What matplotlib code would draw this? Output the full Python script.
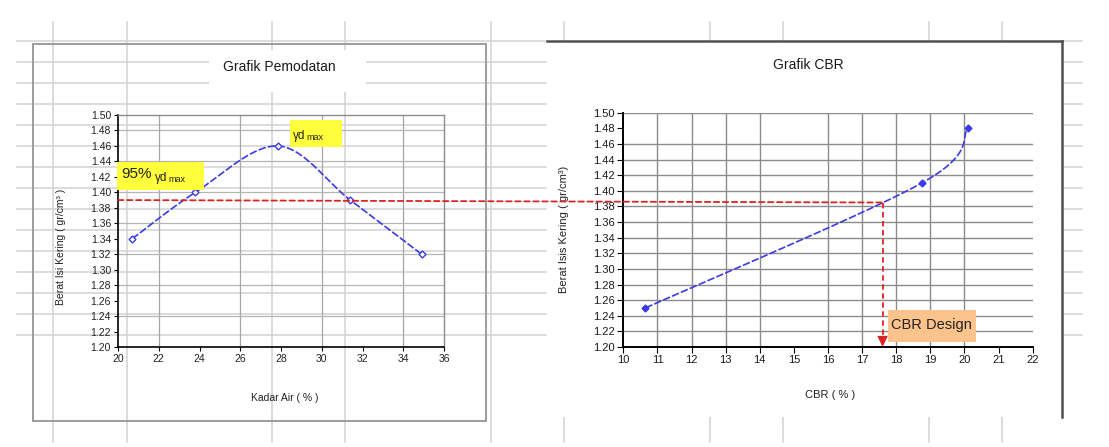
import numpy as np
import matplotlib
matplotlib.use("Agg")
import matplotlib.pyplot as plt
from matplotlib.patches import Rectangle, ConnectionPatch

plt.rcParams['font.family'] = ['Liberation Sans', 'DejaVu Sans']

# ---------------- data ----------------
# Grafik Pemadatan (compaction)
kadar_air = [20.7, 23.8, 27.85, 31.4, 34.9]          # %
berat_isi = [1.34, 1.40, 1.46, 1.39, 1.32]           # gr/cm3
gamma_95 = 1.39                                      # 95% gamma d max

# Grafik CBR
cbr = [10.65, 18.75, 20.1]                           # %
berat_isi_cbr = [1.25, 1.41, 1.48]                   # gr/cm3
cbr_design = 17.6
gamma_at_design = 1.385

left_xticks = list(range(20, 37, 2))
left_yticks = [round(1.20 + 0.02 * i, 2) for i in range(16)]
right_xticks = list(range(10, 23))
right_yticks = [round(1.20 + 0.02 * i, 2) for i in range(16)]

W, H = 1109, 447
fig = plt.figure(figsize=(W / 100, H / 100), dpi=100)

def frac(x0, y0, x1, y1):
    return [x0 / W, 1 - y1 / H, (x1 - x0) / W, (y1 - y0) / H]

# ---------------- spreadsheet background ----------------
bg = fig.add_axes([0, 0, 1, 1], zorder=0)
bg.set_xlim(0, W); bg.set_ylim(H, 0); bg.axis('off')
ss = '#d2d2d2'
col_x = [53, 127, 272, 345, 491, 564, 710, 783, 929, 1002]
row_y = [41 + 21 * i for i in range(15)]
for x in col_x:
    bg.plot([x, x], [22, 442], color=ss, lw=1.1, zorder=1)
for y in row_y:
    bg.plot([17, 546], [y, y], color=ss, lw=1.1, zorder=1)
    bg.plot([1063, 1082], [y, y], color=ss, lw=1.1, zorder=1)
# right chart (opaque white)
bg.add_patch(Rectangle((547, 41), 1062 - 547, 417 - 41, facecolor='white', edgecolor='none', zorder=2))
bg.plot([547, 1062], [41, 41], color='#505050', lw=1.8, zorder=3)
bg.plot([1062, 1062], [41, 417], color='#505050', lw=1.8, zorder=3)
# left chart frame
bg.add_patch(Rectangle((33, 44), 486 - 33, 421 - 44, facecolor='none', edgecolor='#9c9c9c', lw=1.4, zorder=3))
# white behind left title
bg.add_patch(Rectangle((209, 50), 366 - 209, 42, facecolor='white', edgecolor='none', zorder=3))
bg.text(279, 67, 'Grafik Pemodatan', ha='center', va='center', fontsize=10, color='#1a1a1a', zorder=4)
bg.text(808, 65, 'Grafik CBR', ha='center', va='center', fontsize=10, color='#1a1a1a', zorder=4)

# ---------------- smoothing helper (Excel-like bezier) ----------------
def smooth(ax, xs, ys, n=60):
    P = ax.transData.transform(np.column_stack([xs, ys]))
    out = []
    m = len(P)
    for i in range(m - 1):
        p0 = P[i - 1] if i > 0 else P[i]
        p1, p2 = P[i], P[i + 1]
        p3 = P[i + 2] if i + 2 < m else P[i + 1]
        b1 = p1 + (p2 - p0) / 6.0
        b2 = p2 - (p3 - p1) / 6.0
        t = np.linspace(0, 1, n)[:, None]
        seg = (1 - t) ** 3 * p1 + 3 * (1 - t) ** 2 * t * b1 + 3 * (1 - t) * t ** 2 * b2 + t ** 3 * p2
        out.append(seg if i == 0 else seg[1:])
    D = np.vstack(out)
    return ax.transData.inverted().transform(D)

blue = '#3a3ae6'
red = '#dd2222'

# ---------------- left chart ----------------
ax1 = fig.add_axes(frac(118, 115, 444, 347), zorder=2)
ax1.set_facecolor('none')
ax1.set_xlim(20, 36); ax1.set_ylim(1.20, 1.50)
ax1.set_xticks(left_xticks)
ax1.set_yticks(left_yticks)
ax1.set_yticklabels([f'{v:.2f}' for v in left_yticks])
ax1.tick_params(labelsize=7.5, length=3, direction='out', colors='black', labelcolor='#222222', pad=2)
for s in ['left', 'bottom']:
    ax1.spines[s].set_color('black'); ax1.spines[s].set_linewidth(1.2)
for s in ['top', 'right']:
    ax1.spines[s].set_color('#8c8c8c'); ax1.spines[s].set_linewidth(1.0)
for gx in [22, 26, 30, 34]:
    ax1.axvline(gx, color='#a6a6a6', lw=0.9, zorder=0)
for gy in [1.48, 1.44, 1.40, 1.36, 1.32, 1.28, 1.24]:
    ax1.axhline(gy, color='#b4b4b4', lw=0.9, zorder=0)
ax1.set_xlabel('Kadar Air ( % )', fontsize=7.5, color='#222222')
ax1.xaxis.set_label_coords(0.51, -0.2)
ax1.set_ylabel('Berat Isi Kering ( gr/cm³ )', fontsize=7.5, color='#222222')
ax1.yaxis.set_label_coords(-0.16, 0.43)

fig.canvas.draw()
c1 = smooth(ax1, kadar_air, berat_isi)
ax1.plot(c1[:, 0], c1[:, 1], color=blue, lw=1.2, ls=(0, (4.5, 1.3)), zorder=3)
ax1.plot(kadar_air, berat_isi, ls='none', marker='D', ms=3.5, mfc='white', mec=blue, mew=1.0, zorder=4)

# ---------------- right chart ----------------
ax2 = fig.add_axes(frac(623.3, 112.7, 1032.7, 347), zorder=2)
ax2.set_facecolor('none')
ax2.set_xlim(10, 22); ax2.set_ylim(1.20, 1.50)
ax2.set_xticks(right_xticks)
ax2.set_yticks(right_yticks)
ax2.set_yticklabels([f'{v:.2f}' for v in right_yticks])
ax2.tick_params(labelsize=8, length=4, direction='out', colors='black', labelcolor='#1a1a1a', pad=2)
ax2.spines['top'].set_visible(False)
ax2.spines['right'].set_visible(False)
for s in ['left', 'bottom']:
    ax2.spines[s].set_color('black'); ax2.spines[s].set_linewidth(1.4)
for gx in [11, 12, 13, 14, 16, 17, 18, 19, 20]:
    ax2.axvline(gx, color='#8c8c8c', lw=1.0, zorder=0)
for gy in [1.50, 1.46, 1.44, 1.42, 1.40, 1.38, 1.36, 1.34, 1.32, 1.30, 1.28, 1.26, 1.24, 1.22]:
    ax2.axhline(gy, color='#8c8c8c', lw=1.0, zorder=0)
ax2.set_xlabel('CBR ( % )', fontsize=8, color='#222222')
ax2.xaxis.set_label_coords(0.505, -0.185)
ax2.set_ylabel('Berat Isis Kering ( gr/cm³)', fontsize=8, color='#222222')
ax2.yaxis.set_label_coords(-0.133, 0.5)

fig.canvas.draw()
c2 = smooth(ax2, cbr, berat_isi_cbr)
ax2.plot(c2[:, 0], c2[:, 1], color=blue, lw=1.2, ls=(0, (4.5, 1.3)), zorder=3)
ax2.plot(cbr, berat_isi_cbr, ls='none', marker='D', ms=3.5, color=blue, zorder=4)

# vertical design line with arrow
ax2.plot([cbr_design, cbr_design], [gamma_at_design, 1.214], color=red, lw=1.3, ls=(0, (3, 2)), zorder=5)
ax2.annotate('', xy=(cbr_design, 1.20), xytext=(cbr_design, 1.216),
             arrowprops=dict(arrowstyle='-|>,head_length=0.8,head_width=0.38', color=red, lw=0.01,
                             shrinkA=0, shrinkB=0), zorder=6)

# horizontal 95% line across both charts
con = ConnectionPatch(xyA=(20, gamma_95), coordsA=ax1.transData,
                      xyB=(cbr_design, gamma_at_design), coordsB=ax2.transData,
                      color=red, lw=1.3, ls=(0, (3, 2)), zorder=6)
fig.add_artist(con)

# ---------------- overlay labels ----------------
ov = fig.add_axes([0, 0, 1, 1], zorder=5)
ov.set_xlim(0, W); ov.set_ylim(H, 0); ov.axis('off'); ov.set_facecolor('none')
yellow = '#ffff3c'
ov.add_patch(Rectangle((290, 120), 52, 27, facecolor=yellow, edgecolor='none'))
ov.text(293, 136, 'γd', fontsize=8.5, va='center', ha='left', color='#222222')
ov.text(306, 137, 'max', fontsize=6.5, va='center', ha='left', color='#222222')
ov.add_patch(Rectangle((117, 162), 87, 28, facecolor=yellow, edgecolor='none'))
ov.text(121, 174, '95%', fontsize=11, va='center', ha='left', color='#222222')
ov.text(155, 178, 'γd', fontsize=8.5, va='center', ha='left', color='#222222')
ov.text(168, 179, 'max', fontsize=6.5, va='center', ha='left', color='#222222')
ov.add_patch(Rectangle((888, 310), 88, 32, facecolor='#fcc48c', edgecolor='none'))
ov.text(891, 325, 'CBR Design', fontsize=10.5, va='center', ha='left', color='#222222')

fig.savefig('out.png', dpi=100)
